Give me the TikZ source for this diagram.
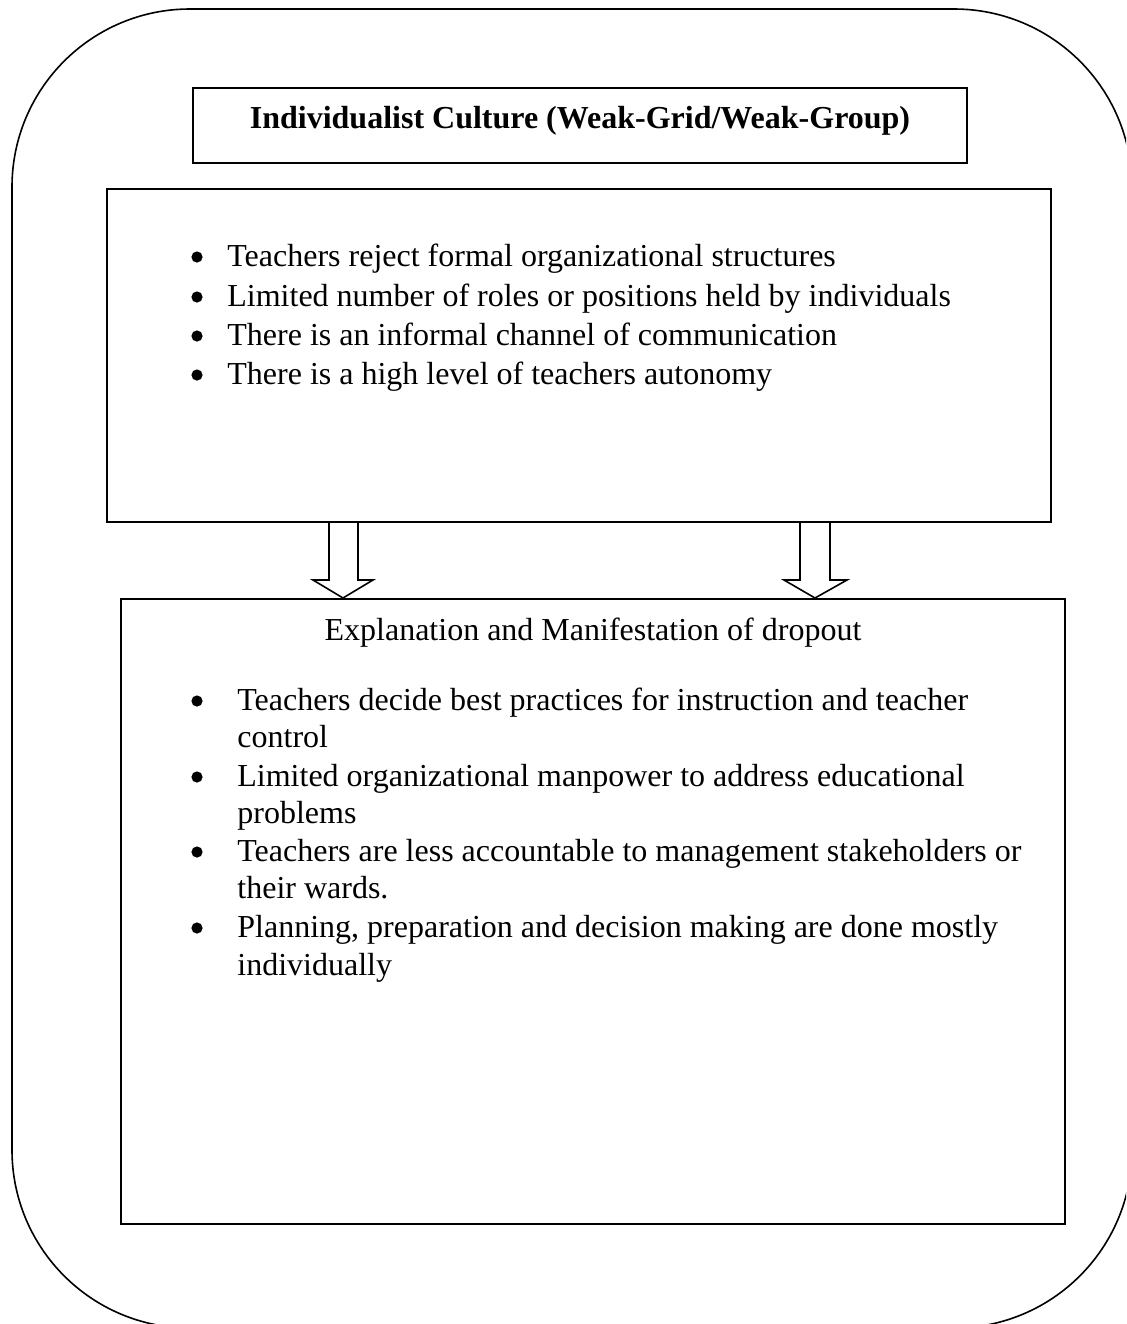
\documentclass[tikz,border=0pt]{standalone}
\usepackage{fontspec}
\setmainfont{Liberation Serif}
\usetikzlibrary{calc}
\begin{document}
\begin{tikzpicture}[x=0.5pt,y=-0.5pt,
  box/.style={draw,line width=1pt,inner sep=0pt},
  txt/.style={inner sep=0pt,anchor=base west,font=\fontsize{16pt}{19pt}\selectfont},
  head/.style={inner sep=0pt,anchor=base,font=\fontsize{16pt}{19pt}\selectfont},
  bul/.style={circle,fill=black,inner sep=0pt,minimum size=5.6pt},
  blockarrow/.style={draw,line width=0.8pt,line join=miter}]
\useasboundingbox (0,0) rectangle (1126,1324);
\clip (0,0) rectangle (1126,1324);
% outer rounded frame
\draw[line width=0.8pt,rounded corners=89pt] (12,9) rectangle (1132,1328);
% boxes
\node[box,minimum width=387pt,minimum height=37.5pt] (title) at (580,125.5) {};
\node[box,minimum width=472pt,minimum height=166.5pt] (box1) at (579,355.5) {};
\node[box,minimum width=472pt,minimum height=312.5pt] (box2) at (593,911.5) {};
% title
\node[head,font=\fontsize{16pt}{19pt}\selectfont\bfseries] (ttext) at (580,128) {Individualist Culture (Weak-Grid/Weak-Group)};
% box 1 list
\node[bul] (b11) at (197,257) {};
\node[txt] (l11) at (227,266) {Teachers reject formal organizational structures};
\node[bul] (b12) at (197,297) {};
\node[txt] (l12) at (227,306) {Limited number of roles or positions held by individuals};
\node[bul] (b13) at (197,336) {};
\node[txt] (l13) at (227,345) {There is an informal channel of communication};
\node[bul] (b14) at (197,375) {};
\node[txt] (l14) at (227,384) {There is a high level of teachers autonomy};
% box 2
\node[head] (h2) at (593,640) {Explanation and Manifestation of dropout};
\node[bul] (b21) at (197,701) {};
\node[txt] (l21) at (237,710) {Teachers decide best practices for instruction and teacher};
\node[txt] (l22) at (237,747) {control};
\node[bul] (b23) at (197,777) {};
\node[txt] (l23) at (237,786) {Limited organizational manpower to address educational};
\node[txt] (l24) at (237,823) {problems};
\node[bul] (b25) at (197,852) {};
\node[txt] (l25) at (237,861) {Teachers are less accountable to management stakeholders or};
\node[txt] (l26) at (237,898) {their wards.};
\node[bul] (b27) at (197,928) {};
\node[txt] (l27) at (237,937) {Planning, preparation and decision making are done mostly};
\node[txt] (l28) at (237,975) {individually};
% block arrows from box1 to box2
\draw[blockarrow] (329,0 |- box1.south) -- (329,580) -- (313,580) -- (343,0 |- box2.north) -- (373,580) -- (358,580) -- (358,0 |- box1.south);
\draw[blockarrow] (800,0 |- box1.south) -- (800,580) -- (784,580) -- (815,0 |- box2.north) -- (847,580) -- (830,580) -- (830,0 |- box1.south);
\end{tikzpicture}
\end{document}
